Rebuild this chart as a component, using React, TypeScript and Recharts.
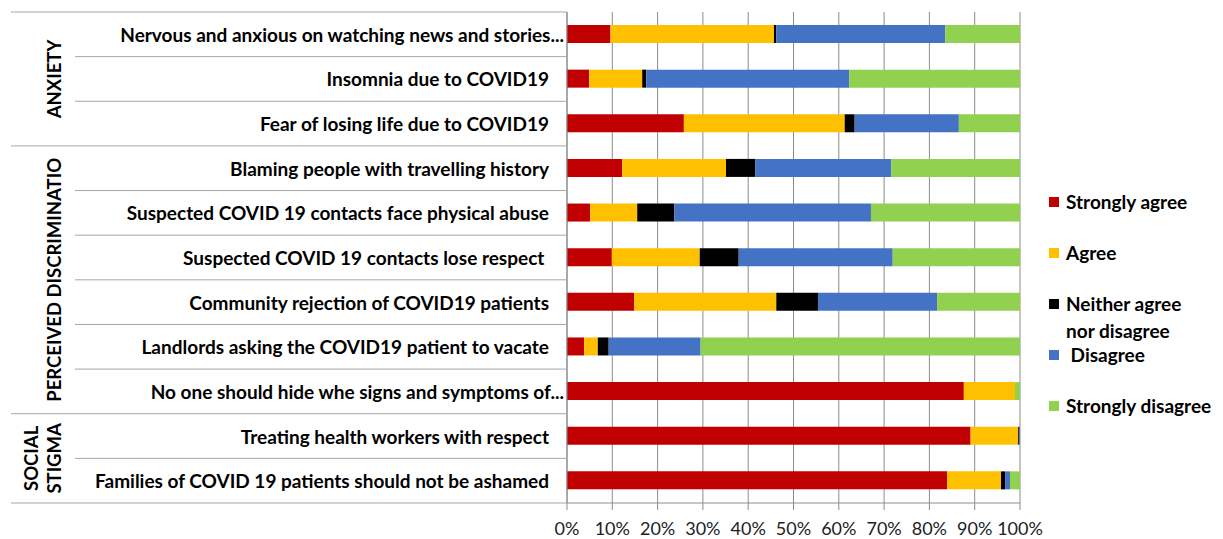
import React from 'react'
import { BarChart, Bar, XAxis, YAxis, CartesianGrid, Legend } from 'recharts'

// statements, top to bottom
const categories = [
  'Nervous and anxious on watching news and stories...',
  'Insomnia due to COVID19',
  'Fear of losing life due to COVID19',
  'Blaming people with travelling history',
  'Suspected COVID 19 contacts face physical abuse',
  'Suspected COVID 19 contacts lose respect ',
  'Community rejection of COVID19 patients',
  'Landlords asking the COVID19 patient to vacate',
  'No one should hide whe signs and symptoms of...',
  'Treating health workers with respect',
  'Families of COVID 19 patients should not be ashamed',
]

const groups = [
  { lines: ['ANXIETY'], start: 0, count: 3 },
  { lines: ['PERCEIVED DISCRIMINATIO'], start: 3, count: 6 },
  { lines: ['SOCIAL', 'STIGMA'], start: 9, count: 2 },
]

// percent of respondents
const stronglyAgree = [9.6, 4.9, 25.8, 12.2, 5.1, 9.9, 14.8, 3.8, 87.6, 89.1, 83.9]
const agree = [36.1, 11.7, 35.5, 22.9, 10.4, 19.4, 31.4, 3.0, 11.3, 10.5, 11.9]
const neither = [0.5, 0.9, 2.2, 6.5, 8.2, 8.6, 9.2, 2.4, 0, 0.2, 0.9]
const disagree = [37.3, 44.8, 23.0, 30.0, 43.4, 34.0, 26.3, 20.3, 0, 0.2, 1.1]
const stronglyDisagree = [16.5, 37.7, 13.5, 28.4, 32.9, 28.1, 18.3, 70.5, 1.1, 0, 2.2]

const xTicks = [0, 10, 20, 30, 40, 50, 60, 70, 80, 90, 100]

const SERIES = [
  { key: 'sa', name: 'Strongly agree', color: '#C00000' },
  { key: 'a', name: 'Agree', color: '#FFC000' },
  { key: 'n', name: 'Neither agree\nnor disagree', color: '#000000' },
  { key: 'd', name: ' Disagree', color: '#4472C4' },
  { key: 'sd', name: 'Strongly disagree', color: '#92D050' },
]

const WIDTH = 1223
const HEIGHT = 539
const TOP = 12
const X_AXIS_HEIGHT = 36
const PLOT_LEFT = 567
const TABLE_LEFT = 11
const ITEM_LEFT = 75
const BAND = (HEIGHT - X_AXIS_HEIGHT - TOP) / categories.length
const LINE = '#a6a6a6'
const GRID = '#8c8c8c'
const FONT = 'Lato, "Open Sans", sans-serif'

const data = categories.map((label, i) => ({
  label,
  sa: stronglyAgree[i],
  a: agree[i],
  n: neither[i],
  d: disagree[i],
  sd: stronglyDisagree[i],
}))

const CategoryTick = (props: any) => {
  const { y, payload } = props
  const i = payload.index ?? props.index
  const top = y - BAND / 2
  const group = groups.find(g => g.start === i)
  const truncated = String(payload.value).endsWith('...')
  return (
    <g>
      <line x1={group ? TABLE_LEFT : ITEM_LEFT} x2={PLOT_LEFT} y1={top} y2={top} stroke={LINE} />
      {i === categories.length - 1 && (
        <line x1={TABLE_LEFT} x2={PLOT_LEFT} y1={y + BAND / 2} y2={y + BAND / 2} stroke={LINE} />
      )}
      <text
        x={truncated ? 564 : 549}
        y={y}
        textAnchor="end"
        dominantBaseline="central"
        fontFamily={FONT}
        fontWeight="bold"
        fontSize={19}
        fill="#000"
        style={{ whiteSpace: 'pre' }}
      >
        {payload.value}
      </text>
      {group &&
        group.lines.map((ln, k) => {
          const gx = 54 - (group.lines.length - 1 - k) * 23
          const gy = top + (group.count * BAND) / 2
          return (
            <text
              key={k}
              transform={`translate(${gx},${gy}) rotate(-90)`}
              textAnchor="middle"
              dominantBaseline="central"
              fontFamily={FONT}
              fontWeight="bold"
              fontSize={18.5}
              fill="#000"
            >
              {ln}
            </text>
          )
        })}
    </g>
  )
}

const LegendContent = ({ payload }: any) => {
  const items = SERIES.map(s => (payload || []).find((p: any) => p.value === s.name)).filter(Boolean)
  return (
    <div style={{ fontFamily: FONT, fontWeight: 'bold', fontSize: 19, color: '#000' }}>
      {items.map((entry: any) => (
        <div key={entry.value} style={{ height: 51, display: 'flex', alignItems: 'flex-start' }}>
          <span
            style={{
              width: 10,
              height: 10,
              marginLeft: 29,
              marginTop: 9,
              marginRight: 7,
              background: entry.color,
              flex: 'none',
            }}
          />
          <span style={{ whiteSpace: 'pre', lineHeight: '27px' }}>{entry.value}</span>
        </div>
      ))}
    </div>
  )
}

export default function App() {
  return (
    <div style={{ position: 'absolute', left: 0, top: 0, width: WIDTH, height: HEIGHT, background: '#fff' }}>
      <BarChart
        width={WIDTH}
        height={HEIGHT}
        data={data}
        layout="vertical"
        barSize={18}
        margin={{ top: TOP, right: 20, bottom: 0, left: 0 }}
      >
        <CartesianGrid horizontal={false} stroke={GRID} />
        <XAxis
          type="number"
          domain={[0, 100]}
          allowDataOverflow
          ticks={xTicks}
          height={X_AXIS_HEIGHT}
          tickFormatter={(v: number) => `${v}%`}
          axisLine={{ stroke: GRID }}
          tickLine={{ stroke: GRID }}
          tickSize={7}
          tickMargin={12}
          tick={{ fontFamily: FONT, fontSize: 18, fill: '#222' }}
        />
        <YAxis
          type="category"
          dataKey="label"
          width={PLOT_LEFT}
          interval={0}
          tickLine={false}
          axisLine={{ stroke: GRID }}
          tick={<CategoryTick />}
        />
        <Legend
          layout="vertical"
          align="right"
          verticalAlign="middle"
          width={183}
          wrapperStyle={{ top: 188 }}
          content={<LegendContent />}
        />
        {SERIES.map(s => (
          <Bar key={s.key} dataKey={s.key} name={s.name} stackId="x" fill={s.color} isAnimationActive={false} />
        ))}
      </BarChart>
    </div>
  )
}
